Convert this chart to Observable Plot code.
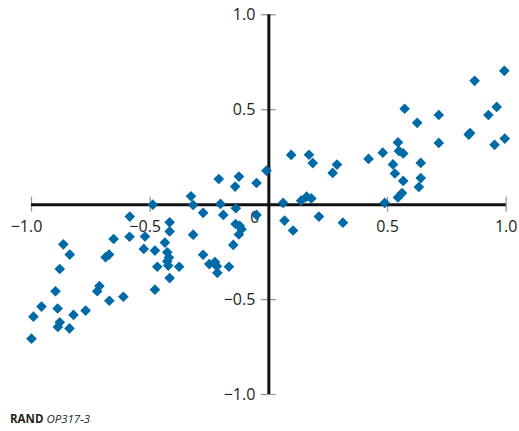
<!DOCTYPE html>
<html>
<head>
<meta charset="utf-8">
<script src="https://cdn.jsdelivr.net/npm/d3@7"></script>
<script src="https://cdn.jsdelivr.net/npm/@observablehq/plot@0.6"></script>
<style>
  body { margin: 0; background: #fff; }
  #chart svg { display: block; }
  .caption { font-family: "Open Sans", sans-serif; font-size: 11.5px; line-height: 14px; color: #231f20; padding-left: 10px; margin-top: 7px; }
</style>
</head>
<body>
<div id="chart"></div>
<div class="caption"><b>RAND</b> <i>OP317-3</i></div>
<script>
// Scatter data (x, y)
const xs = [
  -0.010, -0.211, -0.126, -0.142, -0.052, -0.328, -0.319, -0.204, -0.139, -0.277,
  -0.192, -0.489, -0.052, 0.060, 0.066, 0.102, 0.136, 0.159, 0.179, 0.211,
  0.312, 0.094, 0.169, 0.185, 0.287, 0.269, 0.420, 0.480, 0.544, 0.548,
  0.566, 0.523, 0.531, 0.566, 0.561, 0.544, 0.488, 0.640, 0.640, 0.632,
  0.572, 0.625, 0.716, 0.716, 0.842, 0.848, 0.867, 0.992, 0.925, 0.960,
  0.951, 0.994,
  -0.586, -0.587, -0.522, -0.527, -0.480, -0.470, -0.480, -0.438, -0.428, -0.421,
  -0.428, -0.424, -0.378, -0.418, -0.418, -0.418, -0.319, -0.277, -0.251, -0.227,
  -0.219, -0.217, -0.168, -0.150, -0.140, -0.123, -0.115, -0.126, -0.866, -0.839,
  -0.881, -0.899, -0.958, -0.992, -0.890, -0.881, -0.889, -0.840, -0.823, -0.772,
  -1.000, -0.714, -0.723, -0.672, -0.613, -0.688, -0.673, -0.654
];
const ys = [
  0.179, 0.135, 0.148, 0.095, 0.114, 0.044, -0.002, 0.004, -0.019, -0.043,
  -0.054, 0.000, -0.054, 0.009, -0.084, -0.136, 0.021, 0.042, 0.033, -0.063,
  -0.095, 0.262, 0.263, 0.219, 0.211, 0.167, 0.241, 0.274, 0.328, 0.283,
  0.270, 0.212, 0.164, 0.125, 0.061, 0.038, 0.009, 0.220, 0.140, 0.093,
  0.505, 0.431, 0.472, 0.325, 0.369, 0.377, 0.652, 0.705, 0.472, 0.515,
  0.315, 0.348,
  -0.063, -0.169, -0.168, -0.233, -0.242, -0.327, -0.448, -0.200, -0.251, -0.279,
  -0.298, -0.321, -0.327, -0.387, -0.093, -0.141, -0.158, -0.264, -0.313, -0.302,
  -0.324, -0.359, -0.327, -0.212, -0.102, -0.111, -0.129, -0.157, -0.209, -0.263,
  -0.339, -0.456, -0.537, -0.590, -0.547, -0.620, -0.644, -0.652, -0.581, -0.558,
  -0.706, -0.429, -0.456, -0.506, -0.485, -0.277, -0.263, -0.181
];

const xTicks = [-1, -0.5, 0.5, 1];
const xTickLabels = ["−1.0", "−0.5", "0.5", "1.0"];
const yTicks = [1, 0.5, -0.5, -1];
const yTickLabels = ["1.0", "0.5", "−0.5", "−1.0"];
const zeroLabel = ["0"];

const points = xs.map((x, i) => ({x, y: ys[i]}));
const xLabNeg = xTicks.map((v, i) => ({v, t: xTickLabels[i]})).filter(d => d.v < 0);
const xLabPos = xTicks.map((v, i) => ({v, t: xTickLabels[i]})).filter(d => d.v > 0);
const yLab = yTicks.map((v, i) => ({v, t: yTickLabels[i]}));

const chart = Plot.plot({
  width: 519,
  height: 405,
  marginLeft: 31,
  marginRight: 13.3,
  marginTop: 14.3,
  marginBottom: 11,
  style: {fontFamily: "'Open Sans', sans-serif", background: "#fff"},
  x: {domain: [-1, 1], axis: null},
  y: {domain: [-1, 1], axis: null},
  marks: [
    // tick marks
    Plot.ruleX(xTicks, {x: d => d, y1: 0, y2: 0, insetTop: -7.5, insetBottom: -7.5, stroke: "#999", strokeWidth: 1.3}),
    Plot.ruleY(yTicks, {y: d => d, x1: 0, x2: 0, insetLeft: -7.5, insetRight: -7.5, stroke: "#999", strokeWidth: 1.3}),
    // axis lines through the origin
    Plot.ruleY([0], {x1: -1, x2: 1, stroke: "#111", strokeWidth: 3}),
    Plot.ruleX([0], {y1: -1, y2: 1, stroke: "#111", strokeWidth: 3}),
    // tick labels (the minus sign hangs to the left of the tick)
    Plot.text(xLabNeg, {x: "v", y: 0, text: "t", dy: 22.5, dx: -5, fontSize: 16, fill: "#231f20", textAnchor: "middle"}),
    Plot.text(xLabPos, {x: "v", y: 0, text: "t", dy: 22.5, fontSize: 16, fill: "#231f20", textAnchor: "middle"}),
    Plot.text(yLab, {x: 0, y: "v", text: "t", dx: -13.5, fontSize: 16, fill: "#231f20", textAnchor: "end"}),
    Plot.text(zeroLabel, {x: 0, y: 0, text: d => d, dx: -14, dy: 13.5, fontSize: 16, fill: "#231f20"}),
    // points
    Plot.dot(points, {x: "x", y: "y", symbol: "diamond2", r: 4.8, fill: "#006aa7", stroke: "none"})
  ]
});
document.getElementById("chart").append(chart);
</script>
</body>
</html>
